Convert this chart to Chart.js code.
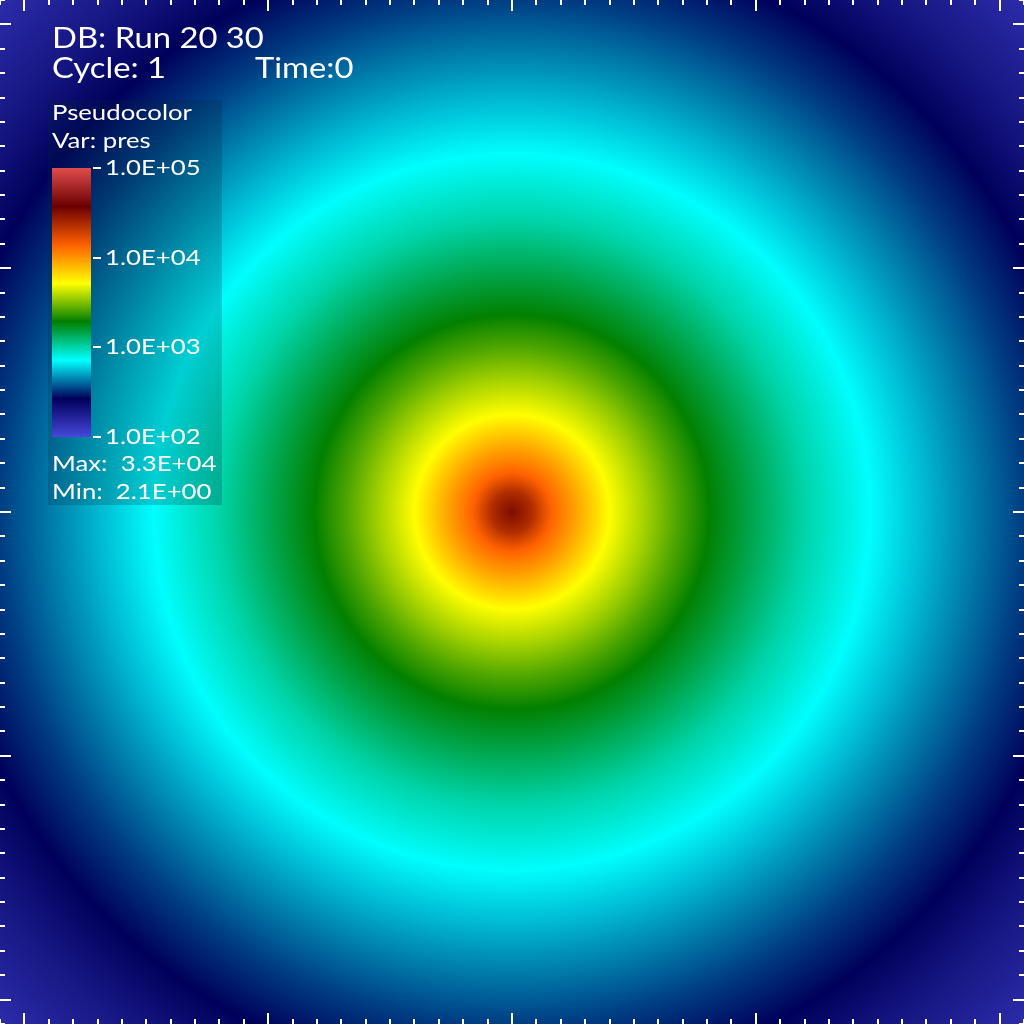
<!DOCTYPE html>
<html>
<head>
<meta charset="utf-8">
<script src="https://cdn.jsdelivr.net/npm/chart.js@4/dist/chart.umd.min.js"></script>
<style>
  html,body{margin:0;padding:0;background:#000;}
  #wrap{width:1024px;height:1024px;}
</style>
</head>
<body>
<div id="wrap"><canvas id="myChart"></canvas></div>
<script>
// radial profile of pres (radius in axis units from the centre)
const radius=[0,0.08,0.16,0.28,0.40,0.55,0.68,0.81,1.0,1.2,1.47,1.8,2.1,2.35,2.6,2.97];
const pres=[33000,24000,13800,8500,5200,3600,2600,1950,1400,1000,720,480,340,268,200,146];

// colour table (hot_desaturate), positions 0..1 on a log scale
const cmapPos=[0,0.143,0.285,0.429,0.571,0.714,0.857,1];
const cmapCol=[[71,71,219],[0,0,91],[0,255,255],[0,127,0],[255,255,0],[255,96,0],[107,0,0],[224,76,76]];

const legendTicks=[1e5,1e4,1e3,1e2];
const legendTickLabels=["1.0E+05","1.0E+04","1.0E+03","1.0E+02"];
const logMin=2, logMax=5;

const FONT="Lato, 'DejaVu Sans', sans-serif";
const STRETCH=1.17;

const colourAt=(t)=>{
    t=Math.max(0,Math.min(1,t));
    for(let i=1;i<cmapPos.length;i++){
        if(t<=cmapPos[i]){
            const f=(t-cmapPos[i-1])/(cmapPos[i]-cmapPos[i-1]);
            const a=cmapCol[i-1],b=cmapCol[i];
            return "rgb("+a.map((v,k)=>Math.round(v+(b[k]-v)*f)).join(",")+")";
        }
    }
    return "rgb("+cmapCol[cmapCol.length-1].join(",")+")";
};
const presToT=(p)=>(Math.log10(p)-logMin)/(logMax-logMin);

// text is a bit wider in the original, so stretch it sideways
const label=(ctx,txt,x,y)=>{
    ctx.save();
    ctx.translate(x,y);
    ctx.scale(STRETCH,1);
    ctx.fillText(txt,0,0);
    ctx.restore();
};

const fieldPlugin={
    id:"field",
    beforeDatasetsDraw(chart){
        const ctx=chart.ctx, xs=chart.scales.x, ys=chart.scales.y, area=chart.chartArea;
        const cx=xs.getPixelForValue(0), cy=ys.getPixelForValue(0);
        const rMax=radius[radius.length-1];
        const rPix=xs.getPixelForValue(rMax)-cx;
        const g=ctx.createRadialGradient(cx,cy,0,cx,cy,rPix);
        radius.forEach((r,i)=>g.addColorStop(r/rMax,colourAt(presToT(pres[i]))));
        ctx.save();
        ctx.fillStyle=g;
        ctx.fillRect(area.left,area.top,area.right-area.left,area.bottom-area.top);
        ctx.restore();
    },
    afterDraw(chart){
        const ctx=chart.ctx, xs=chart.scales.x, ys=chart.scales.y, area=chart.chartArea;
        ctx.save();
        // inward tick marks on all four sides
        ctx.fillStyle="#fff";
        const isMajor=v=>Math.abs(v-Math.round(v))<1e-6;
        xs.ticks.forEach(t=>{
            const px=Math.round(xs.getPixelForValue(t.value));
            const len=isMajor(t.value)?11:5;
            ctx.fillRect(px-1,area.top,2,len);
            ctx.fillRect(px-1,area.bottom-len,2,len);
        });
        ys.ticks.forEach(t=>{
            const py=Math.round(ys.getPixelForValue(t.value));
            const len=isMajor(t.value)?11:5;
            ctx.fillRect(area.left,py-1,len,2);
            ctx.fillRect(area.right-len,py-1,len,2);
        });

        // legend panel
        ctx.fillStyle="rgba(0,40,60,0.22)";
        ctx.fillRect(48,100,174,405);

        // colour bar
        const top=168,bot=437,bx=52,bw=39;
        const lg=ctx.createLinearGradient(0,bot,0,top);
        cmapPos.forEach((p,i)=>lg.addColorStop(p,"rgb("+cmapCol[i].join(",")+")"));
        ctx.fillStyle=lg;
        ctx.fillRect(bx,top,bw,bot-top);

        ctx.fillStyle="#fff";
        ctx.textBaseline="middle";
        ctx.textAlign="left";
        ctx.font="22px "+FONT;
        legendTicks.forEach((v,i)=>{
            const y=bot-(presToT(v))*(bot-top);
            ctx.fillRect(93,Math.round(y)-1,8,2);
            label(ctx,legendTickLabels[i],105,y);
        });
        label(ctx,"Pseudocolor",52,113);
        label(ctx,"Var: pres",52,141);
        label(ctx,"Max:  3.3E+04",52,464);
        label(ctx,"Min:  2.1E+00",52,492);

        ctx.font="28px "+FONT;
        label(ctx,"DB: Run 20 30",52,39);
        label(ctx,"Cycle: 1",52,69);
        label(ctx,"Time:0",255,69);
        ctx.restore();
    }
};

const hiddenAxis=(pos)=>({
    type:"linear",
    position:pos,
    min:-2.1,
    max:2.1,
    ticks:{display:false,stepSize:0.1},
    grid:{display:false,drawTicks:false},
    border:{display:false},
    afterFit:(s)=>{ if(s.isHorizontal()){s.height=0;}else{s.width=0;} }
});

new Chart(document.getElementById("myChart").getContext("2d"),{
    type:"scatter",
    data:{datasets:[{data:[]}]},
    options:{
        responsive:true,
        maintainAspectRatio:false,
        animation:false,
        layout:{padding:0},
        plugins:{legend:{display:false},tooltip:{enabled:false},title:{display:false}},
        scales:{x:hiddenAxis("bottom"),y:hiddenAxis("left")}
    },
    plugins:[fieldPlugin]
});
</script>
</body>
</html>
